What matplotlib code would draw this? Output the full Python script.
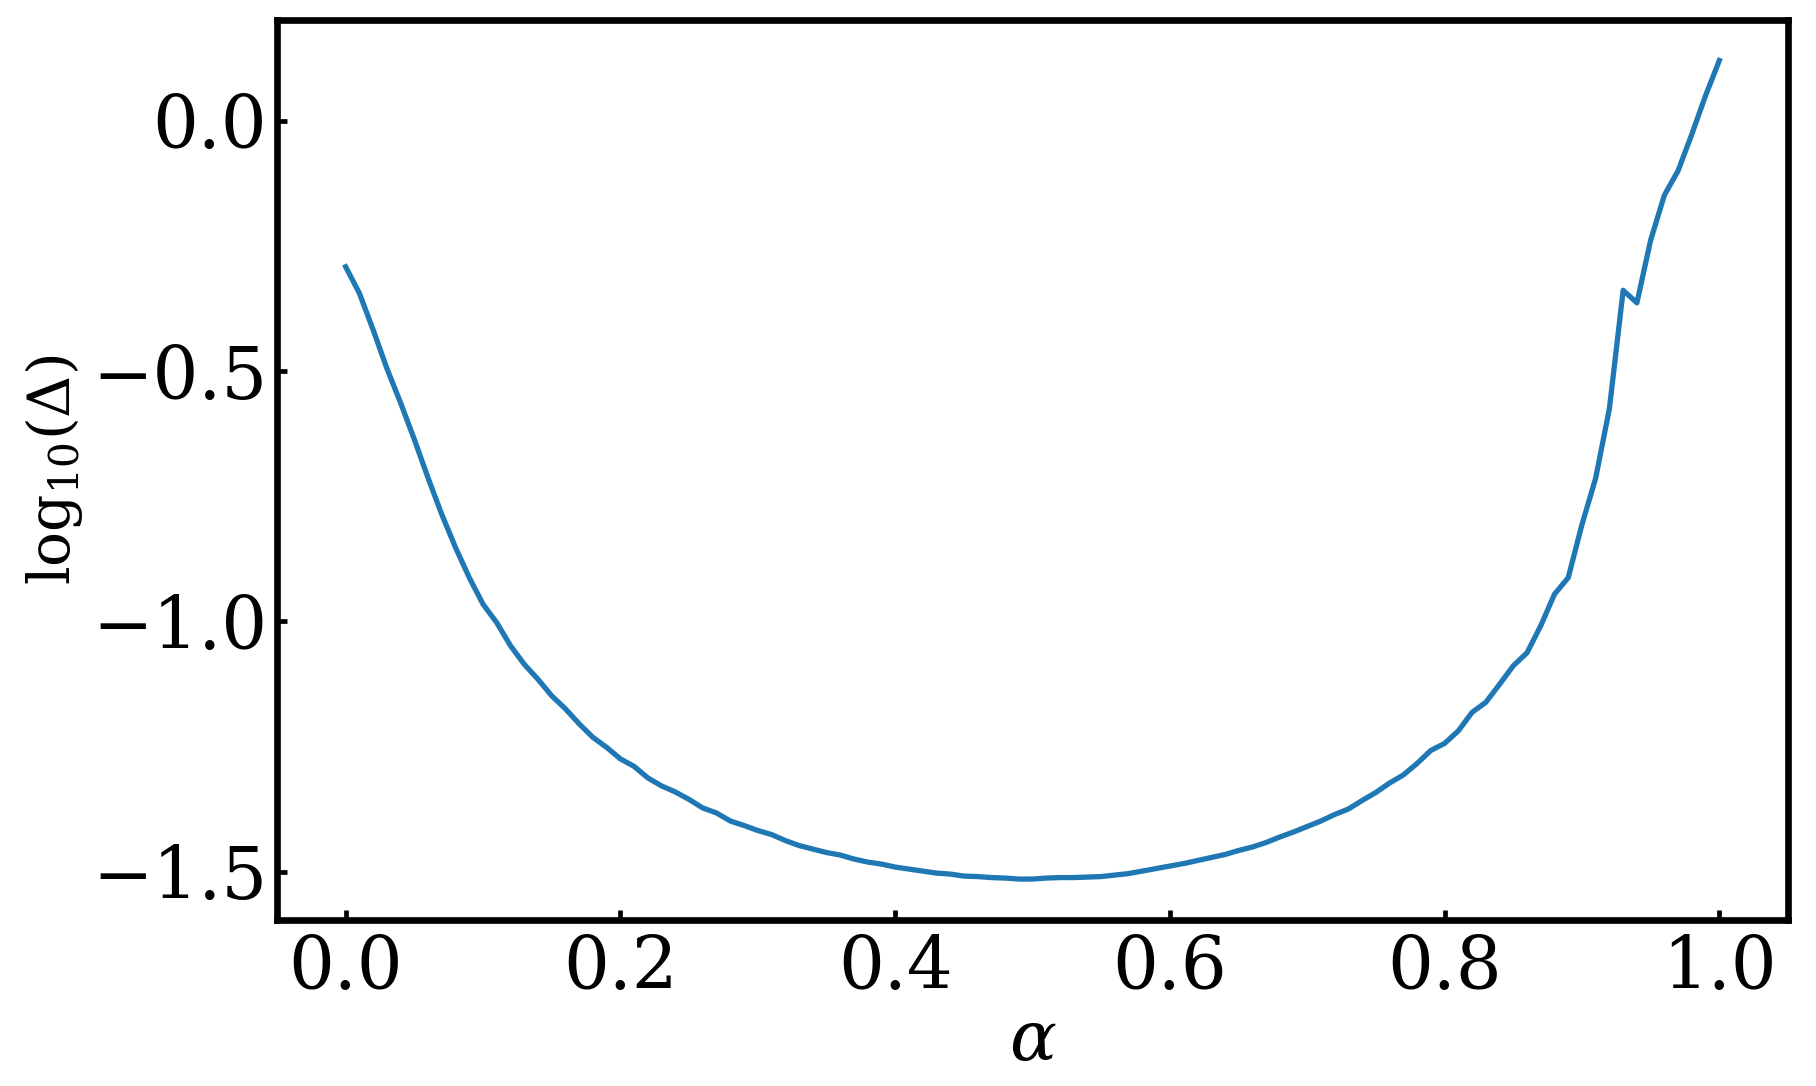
import numpy as np
import matplotlib
matplotlib.use('Agg')
import matplotlib.pyplot as plt

plt.rcParams['font.family'] = 'DejaVu Serif'
plt.rcParams['mathtext.fontset'] = 'dejavuserif'

# alpha grid and log10(Delta)
alpha = np.round(np.arange(0, 1.001, 0.01), 2)
log_delta = [
    -0.292, -0.345, -0.418, -0.495, -0.564, -0.637, -0.714, -0.787, -0.853, -0.913,
    -0.966, -1.003, -1.049, -1.086, -1.116, -1.149, -1.175, -1.205, -1.232, -1.252,
    -1.275, -1.290, -1.313, -1.329, -1.341, -1.356, -1.373, -1.383, -1.399, -1.408,
    -1.418, -1.426, -1.438, -1.448, -1.455, -1.462, -1.467, -1.475, -1.481, -1.485,
    -1.491, -1.495, -1.499, -1.503, -1.505, -1.509, -1.510, -1.512, -1.513, -1.515,
    -1.515, -1.513, -1.512, -1.512, -1.511, -1.510, -1.507, -1.504, -1.499, -1.494,
    -1.489, -1.484, -1.478, -1.472, -1.466, -1.458, -1.451, -1.442, -1.431, -1.421,
    -1.410, -1.399, -1.386, -1.375, -1.358, -1.342, -1.323, -1.307, -1.284, -1.258,
    -1.244, -1.219, -1.182, -1.162, -1.126, -1.089, -1.063, -1.009, -0.946, -0.913,
    -0.807, -0.714, -0.575, -0.339, -0.364, -0.239, -0.149, -0.100, -0.027, 0.050,
    0.120,
]

fig = plt.figure(figsize=(9.08, 5.43), dpi=200)
ax = fig.add_axes([277/1816, 166/1086, (1788-277)/1816, (920-19.6)/1086])

ax.plot(alpha, log_delta, color='#1f77b4', lw=1.9)

ax.set_xticks([0.0, 0.2, 0.4, 0.6, 0.8, 1.0])
ax.set_yticks([0.0, -0.5, -1.0, -1.5])
ax.tick_params(direction='in', labelsize=26, length=3.5, width=1.7)
ax.tick_params(axis='x', pad=5)
ax.tick_params(axis='y', pad=3.5)
for s in ax.spines.values():
    s.set_linewidth(2.4)

ax.set_xlabel(r'$\alpha$', fontsize=25, labelpad=1)
ax.set_ylabel(r'$\mathrm{log}_{10}(\Delta)$', fontsize=21, labelpad=2.5)

fig.savefig('out.png', dpi=200)
